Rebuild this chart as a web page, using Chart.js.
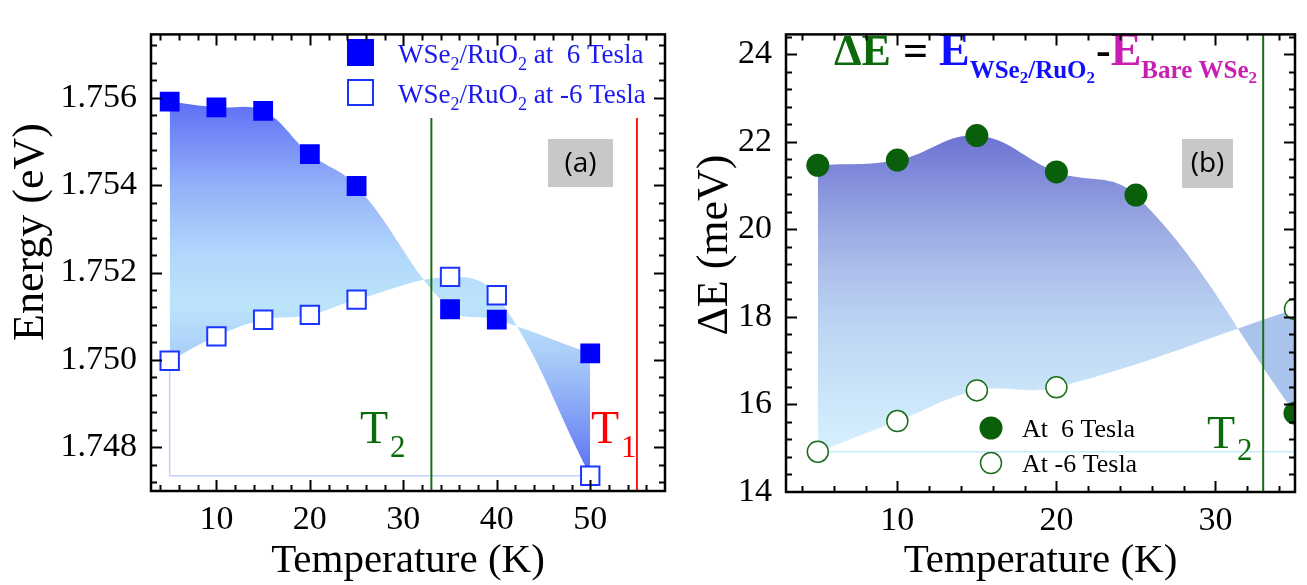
<!DOCTYPE html>
<html>
<head>
<meta charset="utf-8">
<script src="https://cdn.jsdelivr.net/npm/chart.js@4.4.1/dist/chart.umd.min.js"></script>
<style>
  html, body { margin: 0; padding: 0; background: #fff; }
  #wrapA { position: absolute; left: 0; top: 0; width: 680px; height: 585px; }
  #wrapB { position: absolute; left: 680px; top: 0; width: 627px; height: 585px; }
</style>
</head>
<body>
<div id="wrapA"><canvas id="chartA"></canvas></div>
<div id="wrapB"><canvas id="chartB"></canvas></div>
<script>
// ---- panel (a): exciton energy vs temperature ----
const tempsA = [5, 10, 15, 20, 25, 35, 40, 50];
const energyPos6T = [1.75591, 1.75578, 1.75570, 1.75471, 1.75398, 1.75116, 1.75092, 1.75015];
const energyNeg6T = [1.74998, 1.75054, 1.75092, 1.75103, 1.75138, 1.75190, 1.75148, 1.74735];
const xTicksA = [10, 20, 30, 40, 50];
const yTicksA = [1.748, 1.750, 1.752, 1.754, 1.756];

// ---- panel (b): energy difference vs temperature ----
const tempsBPos = [5, 10, 15, 20, 25, 35];
const deltaPos6T = [21.46, 21.58, 22.14, 21.31, 20.78, 15.80];
const tempsBNeg = [5, 10, 15, 20, 35];
const deltaNeg6T = [14.92, 15.62, 16.32, 16.39, 18.18];
const xTicksB = [10, 20, 30];
const yTicksB = [14, 16, 18, 20, 22, 24];

// transition temperatures (K)
const T2 = 33;
const T1 = 55;

const SERIF = '"Liberation Serif", "DejaVu Serif", serif';
const GREEN = '#0b6b0b';
const pts = (xs, ys) => xs.map((x, i) => ({ x: x, y: ys[i] }));

// gradient stops in data units (value, colour)
const gradStopsA = [
  [1.7559, '#5e70f5'], [1.7540, '#93b0f9'], [1.7525, '#b0d6fb'], [1.7513, '#bce5fb'],
  [1.7502, '#acd0f9'], [1.7484, '#7b95f5'], [1.7475, '#5f73f4'],
];
const gradStopsB = [
  [22.1, '#6e74d3'], [20.1, '#9aa8e2'], [19.0, '#aec0eb'], [17.8, '#bcd5f3'],
  [15.7, '#cfeafb'], [14.9, '#d5f0fc'],
];

function makeGradient(chart, stops) {
  const y = chart.scales.y;
  const p0 = y.getPixelForValue(stops[0][0]);
  const p1 = y.getPixelForValue(stops[stops.length - 1][0]);
  const g = chart.ctx.createLinearGradient(0, p0, 0, p1);
  stops.forEach(([v, c]) => {
    const f = (y.getPixelForValue(v) - p0) / (p1 - p0);
    g.addColorStop(Math.min(1, Math.max(0, f)), c);
  });
  return g;
}

function minorValues(scale, step) {
  const out = [];
  const n0 = Math.ceil(scale.min / step - 1e-6);
  const n1 = Math.floor(scale.max / step + 1e-6);
  for (let n = n0; n <= n1; n++) out.push(n * step);
  return out;
}

// box frame with inward ticks on all four sides
function framePlugin(minorX, minorY) {
  return {
    id: 'frame',
    afterDraw(chart) {
      const { ctx, chartArea: a, scales: { x, y } } = chart;
      ctx.save();
      ctx.strokeStyle = '#000';
      ctx.lineWidth = 2;
      ctx.beginPath();
      const tx = (vals, len) => vals.forEach(v => {
        const p = Math.round(x.getPixelForValue(v)) + 0.5;
        if (p < a.left || p > a.right) return;
        ctx.moveTo(p, a.bottom); ctx.lineTo(p, a.bottom - len);
        ctx.moveTo(p, a.top); ctx.lineTo(p, a.top + len);
      });
      const ty = (vals, len) => vals.forEach(v => {
        const p = Math.round(y.getPixelForValue(v)) + 0.5;
        if (p < a.top || p > a.bottom) return;
        ctx.moveTo(a.left, p); ctx.lineTo(a.left + len, p);
        ctx.moveTo(a.right, p); ctx.lineTo(a.right - len, p);
      });
      tx(minorValues(x, minorX), 6);
      ty(minorValues(y, minorY), 6);
      tx(x.ticks.map(t => t.value), 11);
      ty(y.ticks.map(t => t.value), 11);
      ctx.stroke();
      ctx.lineWidth = 2.5;
      ctx.strokeRect(a.left, a.top, a.right - a.left, a.bottom - a.top);
      ctx.restore();
    },
  };
}

// draws a list of text runs one after another: [text, font, colour, dy]
function drawRuns(ctx, x, y, runs) {
  runs.forEach(([text, font, color, dy, gap]) => {
    x += gap || 0;
    ctx.font = font;
    ctx.fillStyle = color;
    ctx.fillText(text, x, y + (dy || 0));
    x += ctx.measureText(text).width;
  });
  return x;
}

function drawRotated(ctx, text, font, x, y) {
  ctx.save();
  ctx.translate(x, y);
  ctx.rotate(-Math.PI / 2);
  ctx.font = font;
  ctx.fillStyle = '#000';
  ctx.textAlign = 'center';
  ctx.textBaseline = 'alphabetic';
  ctx.fillText(text, 0, 0);
  ctx.restore();
}

function panelTag(ctx, label, x, y, w, h) {
  ctx.fillStyle = '#c8c8c8';
  ctx.fillRect(x, y, w, h);
  ctx.font = '28px "Open Sans", "Liberation Sans", sans-serif';
  ctx.fillStyle = '#000';
  ctx.textAlign = 'center';
  ctx.textBaseline = 'middle';
  ctx.fillText(label, x + w / 2, y + h / 2 + 1);
  ctx.textAlign = 'left';
  ctx.textBaseline = 'alphabetic';
}

function baseScales(xMin, xMax, xTicks, yMin, yMax, yTicks, yFmt, yWidth, xHeight) {
  const tickFont = { family: SERIF, size: 34 };
  return {
    x: {
      type: 'linear', min: xMin, max: xMax,
      afterBuildTicks: s => { s.ticks = xTicks.map(v => ({ value: v })); },
      afterFit: s => { s.height = xHeight; },
      grid: { display: false, drawTicks: false },
      border: { display: false },
      ticks: { font: tickFont, color: '#000', padding: 9, maxRotation: 0, autoSkip: false },
    },
    y: {
      type: 'linear', min: yMin, max: yMax,
      afterBuildTicks: s => { s.ticks = yTicks.map(v => ({ value: v })); },
      afterFit: s => { s.width = yWidth; },
      grid: { display: false, drawTicks: false },
      border: { display: false },
      ticks: { font: tickFont, color: '#000', padding: 14, autoSkip: false, callback: yFmt },
    },
  };
}

const commonOpts = {
  responsive: true,
  maintainAspectRatio: false,
  animation: false,
  events: [],
  plugins: {
    legend: { display: false },
    tooltip: { enabled: false },
    filler: { drawTime: 'beforeDatasetsDraw' },
  },
};

// ================= panel (a) =================
const yMinA = 1.747, yMaxA = 1.75745;
const baseA = Math.min(...energyNeg6T);

const textA = {
  id: 'textA',
  afterDatasetsDraw(chart) {
    const ctx = chart.ctx;
    ctx.save();
    // legend (white box hides the vertical lines behind it)
    ctx.fillStyle = '#fff';
    ctx.fillRect(335, 13, 333, 105);
    ctx.fillStyle = '#0000ff';
    ctx.fillRect(347, 39, 27, 27);
    ctx.strokeStyle = '#1a35ff';
    ctx.lineWidth = 2;
    ctx.strokeRect(348, 80, 25, 25);
    const f = '27px ' + SERIF, fs = '18px ' + SERIF, c = '#1a1aee';
    const legendRow = (y, tail) => drawRuns(ctx, 398, y, [
      ['WSe', f, c], ['2', fs, c, 7], ['/RuO', f, c], ['2', fs, c, 7], [tail, f, c],
    ]);
    legendRow(63, ' at  6 Tesla');
    legendRow(103, ' at -6 Tesla');
    ctx.restore();
  },
  afterDraw(chart) {
    const { ctx, chartArea: a } = chart;
    ctx.save();
    drawRotated(ctx, 'Energy (eV)', '44px ' + SERIF, 43, 232);
    ctx.font = '41px ' + SERIF;
    ctx.fillStyle = '#000';
    ctx.textAlign = 'center';
    ctx.fillText('Temperature (K)', (a.left + a.right) / 2, 572);
    ctx.textAlign = 'left';
    panelTag(ctx, '(a)', 548, 139, 65, 48);
    drawRuns(ctx, 360, 443, [['T', '46px ' + SERIF, GREEN], ['2', '31px ' + SERIF, GREEN, 14, 2]]);
    drawRuns(ctx, 591, 443, [['T', '46px ' + SERIF, '#ff0000'], ['1', '31px ' + SERIF, '#ff0000', 14, 2]]);
    ctx.restore();
  },
};

new Chart(document.getElementById('chartA'), {
  type: 'line',
  data: {
    datasets: [
      {
        data: pts(tempsA, energyPos6T), fill: '+1', tension: 0.4,
        borderWidth: 0, pointRadius: 0, order: 5,
        backgroundColor: c => c.chart.chartArea ? makeGradient(c.chart, gradStopsA) : 'transparent',
      },
      {
        data: pts(tempsA, energyNeg6T), fill: false, tension: 0.4,
        borderWidth: 0, pointRadius: 0, order: 6,
      },
      {
        data: [
          { x: tempsA[0], y: energyNeg6T[0] },
          { x: tempsA[0], y: baseA },
          { x: tempsA[tempsA.length - 1], y: baseA },
        ],
        borderColor: '#c3d0fb', borderWidth: 1.5, pointRadius: 0, tension: 0, order: 4,
      },
      {
        data: [{ x: T2, y: yMinA }, { x: T2, y: yMaxA }],
        borderColor: '#157015', borderWidth: 2, pointRadius: 0, order: 3,
      },
      {
        data: [{ x: T1, y: yMinA }, { x: T1, y: yMaxA }],
        borderColor: '#ff1a1a', borderWidth: 2, pointRadius: 0, order: 3,
      },
      {
        data: pts(tempsA, energyPos6T), showLine: false, order: 0,
        pointStyle: 'rect', pointRadius: 14, pointBackgroundColor: '#0000ff',
        pointBorderColor: '#0000ff', pointBorderWidth: 0,
      },
      {
        data: pts(tempsA, energyNeg6T), showLine: false, order: 0,
        pointStyle: 'rect', pointRadius: 13, pointBackgroundColor: '#ffffff',
        pointBorderColor: '#1a35ff', pointBorderWidth: 2,
      },
    ],
  },
  options: Object.assign({}, commonOpts, {
    layout: { padding: { left: 0, right: 10, top: 5, bottom: 0 } },
    scales: baseScales(3, 58, xTicksA, yMinA, yMaxA, yTicksA, v => v.toFixed(3), 151, 94),
  }),
  plugins: [textA, framePlugin(2, 0.0004)],
});

// ================= panel (b) =================
const yMinB = 14, yMaxB = 24.45;
const baseB = Math.min(...deltaNeg6T);

const textB = {
  id: 'textB',
  afterDatasetsDraw(chart) {
    const ctx = chart.ctx;
    ctx.save();
    // legend
    ctx.fillStyle = '#0a600a';
    ctx.beginPath(); ctx.arc(311, 428, 11.5, 0, Math.PI * 2); ctx.fill();
    ctx.strokeStyle = '#1b6e1b';
    ctx.lineWidth = 1.5;
    ctx.fillStyle = '#fff';
    ctx.beginPath(); ctx.arc(311, 463, 10.5, 0, Math.PI * 2); ctx.fill(); ctx.stroke();
    ctx.font = '26px ' + SERIF;
    ctx.fillStyle = '#000';
    ctx.fillText('At  6 Tesla', 342, 437);
    ctx.fillText('At -6 Tesla', 342, 472);
    ctx.restore();
  },
  afterDraw(chart) {
    const { ctx, chartArea: a } = chart;
    ctx.save();
    drawRotated(ctx, '\u0394E (meV)', '44px ' + SERIF, 47, 245);
    ctx.font = '41px ' + SERIF;
    ctx.fillStyle = '#000';
    ctx.textAlign = 'center';
    ctx.fillText('Temperature (K)', (a.left + a.right) / 2, 572);
    ctx.textAlign = 'left';
    panelTag(ctx, '(b)', 502, 139, 51, 49);
    drawRuns(ctx, 527, 448, [['T', '46px ' + SERIF, GREEN], ['2', '31px ' + SERIF, GREEN, 12, 2]]);
    // formula
    const big = 'bold 44px ' + SERIF, bigE = 'bold 46px ' + SERIF;
    const sub = 'bold 25px ' + SERIF, sub2 = 'bold 17px ' + SERIF;
    const blue = '#1010ff', mag = '#c81eb4';
    drawRuns(ctx, 154, 65, [
      ['\u0394E', big, GREEN],
      ['=', big, '#000', 0, 12],
      ['E', bigE, blue, 0, 11],
      ['WSe', sub, blue, 13], ['2', sub2, blue, 18], ['/RuO', sub, blue, 13], ['2', sub2, blue, 18],
      ['-', big, '#000', 0, 1],
      ['E', bigE, mag],
      ['Bare WSe', sub, mag, 13], ['2', sub2, mag, 18],
    ]);
    ctx.restore();
  },
};

new Chart(document.getElementById('chartB'), {
  type: 'line',
  data: {
    datasets: [
      {
        data: pts(tempsBPos, deltaPos6T), fill: { target: '+1', below: '#a9c3ec' }, tension: 0.4,
        borderWidth: 0, pointRadius: 0, order: 5,
        backgroundColor: c => c.chart.chartArea ? makeGradient(c.chart, gradStopsB) : 'transparent',
      },
      {
        data: pts(tempsBNeg, deltaNeg6T), fill: false, tension: 0.4,
        borderWidth: 0, pointRadius: 0, order: 6,
      },
      {
        data: [{ x: tempsBNeg[0], y: baseB }, { x: tempsBNeg[tempsBNeg.length - 1], y: baseB }],
        borderColor: '#c6ebfb', borderWidth: 1.5, pointRadius: 0, order: 4,
      },
      {
        data: [{ x: T2, y: yMinB }, { x: T2, y: yMaxB }],
        borderColor: '#157015', borderWidth: 2, pointRadius: 0, order: 3,
      },
      {
        data: pts(tempsBPos, deltaPos6T), showLine: false, order: 0, clip: 0,
        pointStyle: 'circle', pointRadius: 11.5, pointBackgroundColor: '#0a600a',
        pointBorderColor: '#0a600a', pointBorderWidth: 0,
      },
      {
        data: pts(tempsBNeg, deltaNeg6T), showLine: false, order: 0, clip: 0,
        pointStyle: 'circle', pointRadius: 10.5, pointBackgroundColor: '#ffffff',
        pointBorderColor: '#1b6e1b', pointBorderWidth: 1.5,
      },
    ],
  },
  options: Object.assign({}, commonOpts, {
    layout: { padding: { left: 0, right: 8, top: 5, bottom: 0 } },
    scales: baseScales(3, 35, xTicksB, yMinB, yMaxB, yTicksB, v => String(v), 106, 93),
  }),
  plugins: [textB, framePlugin(2, 0.4)],
});
</script>
</body>
</html>
